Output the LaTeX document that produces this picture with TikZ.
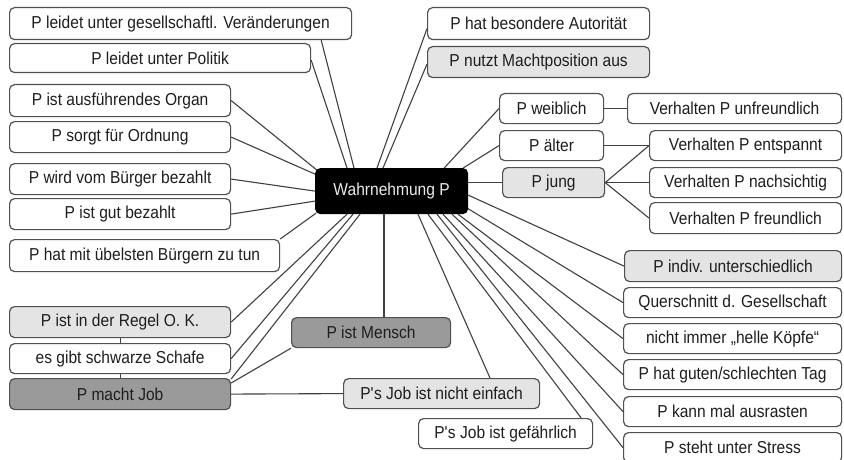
\documentclass[tikz,border=0pt]{standalone}
\usepackage{fontspec}
\setmainfont{Liberation Sans}[FakeStretch=0.9]
\usetikzlibrary{calc,backgrounds}
\definecolor{bord}{HTML}{505050}
\definecolor{lgray}{HTML}{E4E4E4}
\definecolor{dgray}{HTML}{9A9A9A}
\definecolor{txt}{HTML}{1E1E1E}
\definecolor{lnc}{HTML}{404040}
\newcommand\MMbox[7]{\node[box,#6,minimum width={(#4-#2)*1pt},minimum height={(#5-#3)*1pt},anchor=north west] (#1) at (#2,#3) {#7};}
\begin{document}
\begin{tikzpicture}[x=1pt,y=-1pt,
  box/.style={draw=bord,line width=1.2pt,rounded corners=5pt,fill=white,inner sep=0pt,text=txt,font=\fontsize{17.3}{19}\selectfont},
  wh/.style={},
  lt/.style={fill=lgray},
  dk/.style={fill=dgray},
  ctr/.style={fill=black,draw=black,text=white!92!black},
  link/.style={draw=lnc,line width=1.1pt}]
\useasboundingbox (0,0) rectangle (844,460);
% left column
\MMbox{gs}{9}{7}{351}{39}{wh}{P leidet unter gesellschaftl. Veränderungen}
\MMbox{po}{9}{43}{310}{72}{wh}{P leidet unter Politik}
\MMbox{org}{9}{84}{230}{116}{wh}{P ist ausführendes Organ}
\MMbox{ord}{9}{121}{230}{152}{wh}{P sorgt für Ordnung}
\MMbox{bue}{9}{163}{230}{194}{wh}{P wird vom Bürger bezahlt}
\MMbox{gut}{9}{198}{230}{229}{wh}{P ist gut bezahlt}
\MMbox{ueb}{9}{239}{279}{271}{wh}{P hat mit übelsten Bürgern zu tun}
\MMbox{ok}{9}{306}{230}{337}{lt}{P ist in der Regel O. K.}
\MMbox{sf}{9}{343}{230}{373}{wh}{es gibt schwarze Schafe}
\MMbox{mj}{9}{378}{230}{409}{dk}{P macht Job}
% middle
\MMbox{ms}{291}{317}{450}{347}{dk}{P ist Mensch}
\MMbox{ne}{343}{378}{539}{408}{lt}{P\textquotesingle s Job ist nicht einfach}
\MMbox{gf}{418}{418}{592}{448}{wh}{P\textquotesingle s Job ist gefährlich}
\MMbox{au}{427}{7}{649}{39}{wh}{P hat besondere Autorität}
\MMbox{mp}{427}{46}{649}{77}{lt}{P nutzt Machtposition aus}
\MMbox{c}{315}{168}{467}{213}{ctr}{Wahrnehmung P}
% right
\MMbox{wb}{499}{93}{603}{123}{wh}{P weiblich}
\MMbox{uf}{627}{93}{841}{123}{wh}{Verhalten P unfreundlich}
\MMbox{al}{499}{130}{603}{160}{wh}{P älter}
\MMbox{jg}{502}{167}{604}{197}{lt}{P jung}
\MMbox{es}{649}{130}{841}{160}{wh}{Verhalten P entspannt}
\MMbox{na}{649}{167}{841}{197}{wh}{Verhalten P nachsichtig}
\MMbox{fr}{649}{202}{841}{233}{wh}{Verhalten P freundlich}
\MMbox{iu}{624}{250}{841}{281}{lt}{P indiv. unterschiedlich}
\MMbox{qs}{623}{287}{841}{317}{wh}{Querschnitt d. Gesellschaft}
\MMbox{hk}{623}{323}{841}{353}{wh}{nicht immer „helle Köpfe“}
\MMbox{tg}{623}{359}{841}{389}{wh}{P hat guten/schlechten Tag}
\MMbox{ar}{623}{396}{841}{426}{wh}{P kann mal ausrasten}
\MMbox{st}{623}{432}{841}{462}{wh}{P steht unter Stress}
\begin{scope}[on background layer]
\path[link] ($(c.north west)+(39,0)$) -- ($(gs.south east)+(-31,0)$);
\path[link] ($(c.north west)+(32,0)$) -- ($(po.east)+(0,2)$);
\path[link] ($(c.north west)+(62,0)$) -- ($(au.west)+(0,5)$);
\path[link] ($(c.north west)+(68,0)$) -- ($(mp.west)+(0,2)$);
\path[link] ($(c.north west)+(3,3)$) -- (org.east);
\path[link] ($(c.west)+(0,-17)$) -- (ord.east);
\path[link] (c.west) -- (bue.east);
\path[link] ($(c.west)+(0,10)$) -- (gut.east);
\path[link] ($(c.south west)+(1,-1)$) -- (ueb.north east);
\path[link] ($(c.south west)+(32,0)$) -- (ok.east);
\path[link] ($(c.south west)+(38,0)$) -- (sf.east);
\path[link] ($(c.south west)+(45,0)$) -- ($(mj.north east)+(0,1)$);
\path[link] (ms.south west) -- ($(mj.north east)+(0,5)$);
\path[link] (mj.east) -- (ne.west);
\path[link] (ok.south) -- (sf.north);
\path[link] (sf.south) -- (mj.north);
\coordinate (m1) at ($(c.south west)+(69,0)$);
\path[link] (m1) -- (m1 |- ms.north);
\path[link] ($(c.south west)+(103,0)$) -- ($(ne.north west)+(147,0)$);
\path[link] ($(c.south west)+(113,0)$) -- ($(gf.north east)+(-12,0)$);
\path[link] ($(c.south west)+(122,0)$) -- (st.west);
\path[link] ($(c.south west)+(128,0)$) -- (ar.west);
\path[link] ($(c.south west)+(137,0)$) -- (tg.west);
\path[link] ($(c.south west)+(143,0)$) -- (hk.west);
\path[link] ($(c.south east)+(-1,-6)$) -- (qs.west);
\path[link] ($(c.east)+(0,4)$) -- (iu.west);
\path[link] (c.east |- jg.west) -- (jg.west);
\path[link] ($(c.north east)+(-5,0)$) -- (al.west);
\path[link] ($(c.north east)+(-24,0)$) -- (wb.west);
\path[link] (wb.east) -- (uf.west);
\path[link] (al.east) -- (es.west);
\path[link] (jg.east) -- (es.west);
\path[link] (jg.east) -- (na.west);
\path[link] (jg.east) -- (fr.west);
\end{scope}
\end{tikzpicture}
\end{document}
